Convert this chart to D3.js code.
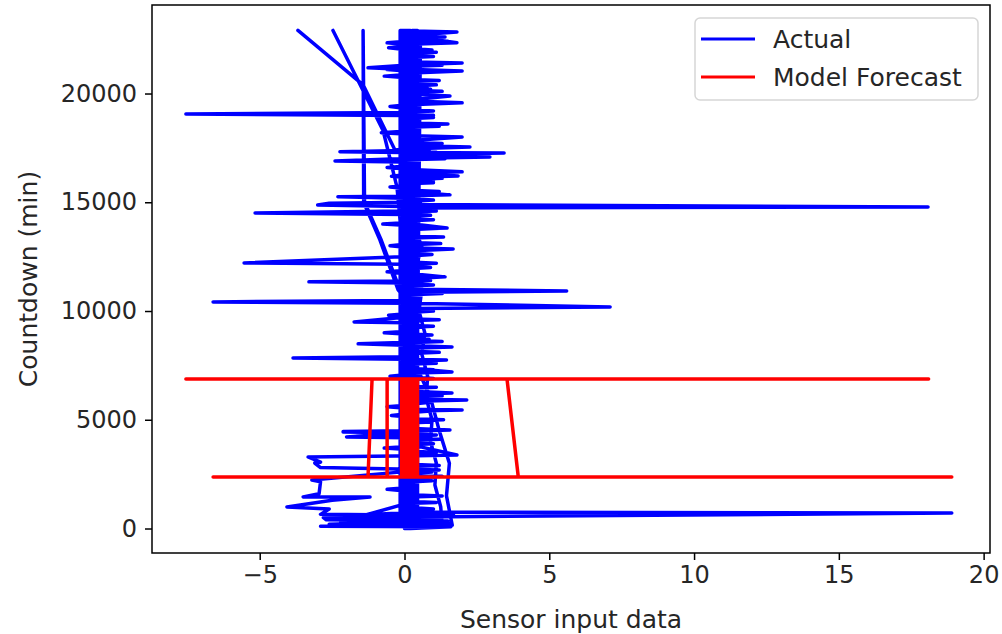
<!DOCTYPE html>
<html>
<head>
<meta charset="utf-8">
<script src="https://cdn.jsdelivr.net/npm/d3@7"></script>
<style>
  body { margin: 0; background: #fff; }
  text { font-family: "DejaVu Sans", sans-serif; fill: #262626; }
</style>
</head>
<body>
<div class="render"></div>
<script>
var xTicks = [-5, 0, 5, 10, 15, 20];
var yTicks = [0, 5000, 10000, 15000, 20000];
var seriesNames = ["Actual", "Model Forecast"];
var seriesColors = ["#0000ff", "#ff0000"];

// [sensor value, countdown], in plotting order
var actual = [
  [-3.68,22900],[-1.43,20400],[-0.33,17400],
  [0.05,17450],[2.26,17540],[0.4,17600],[-0.1,17800],[1.99,18000],[0.3,18060],[0.45,18400],[-0.12,18700],[0.0,18990],[-7.55,19060],[-0.05,19130],[0.35,19400],[0.2,19700],[1.57,19890],[0.5,19950],[-0.1,20200],[0.3,20600],[0.45,20950],[1.99,21040],[0.35,21100],[-0.1,21500],[0.2,21900],[0.0,22250],[-0.6,22330],[0.1,22400],[0.5,22700],[1.81,22830],[0.3,22880],[0.0,22900],
  [0.4,22600],[1.81,22330],[0.45,22280],[-0.1,21800],[0.35,21450],[1.99,21400],[0.4,21340],[-1.26,21180],[-0.1,21120],[0.2,20700],[0.78,20300],[0.1,20250],[0.45,19650],[1.99,19570],[0.4,19500],[-0.1,19000],[0.3,18500],[0.0,17900],[0.4,17450],[0.0,17380],[-2.23,17320],[-0.05,17290],[3.44,17270],[0.4,17200],[2.95,17080],[0.3,17020],[-2.4,16900],[-0.1,16850],[0.4,16500],[1.99,16400],[0.35,16330],[1.85,16210],[0.3,16150],[-0.1,15900],[0.2,15500],[1.57,15340],[0.3,15300],[-0.05,15280],[-2.3,15250],[0.0,15180],[0.45,14900],[18.08,14785],[0.5,14740],[-0.1,14600],[-5.16,14510],[0.0,14440],[0.3,14000],[1.47,13820],[0.4,13780],[-0.1,13300],[0.4,12900],[1.68,12850],[0.5,12780],[-0.12,12500],[-5.54,12210],[-0.05,12150],[0.35,11700],[1.4,11570],[0.4,11500],[-0.1,11380],[-3.3,11340],[0.0,11290],[0.3,11000],[5.6,10920],[0.45,10860],[-0.05,10480],[-6.61,10420],[0.05,10360],[7.1,10190],[0.4,10120],[-0.1,9700],[-1.74,9500],[0.0,9460],[0.35,9000],[-0.1,8550],[-1.6,8490],[0.0,8430],[0.4,8400],[1.64,8350],[0.45,8300],[-0.1,7900],[-3.85,7840],[0.0,7780],[1.45,7750],[0.4,7700],[-0.1,7400],[1.64,7200],[0.35,7150],[0.0,6700],[0.4,6300],[1.64,6230],[0.45,6180],[-0.1,5950],[2.15,5910],[0.4,5850],[0.0,5500],[1.99,5450],[0.35,5400],[-0.1,5000],[0.3,4600],[1.57,4530],[0.4,4480],[-2.12,4440],[0.0,4400],[-2.0,4210],[0.1,4170],[0.4,3800],[1.81,3380],[0.45,3340],[-3.33,3290],[-2.9,3050],[-3.1,3010],[-2.9,2800],[0.2,2720],[1.2,2690],[0.3,2650],[-3.2,2230],[-2.9,2150],[-2.95,1600],[-3.5,1450],[-1.19,1450],[-2.5,1300],[-4.06,990],[-2.6,900],[-2.9,650],[1.7,600],[0.0,400],[0.0,0],
  [0.2,0],[1.6,80],[-2.9,100],[1.55,250],[-2.6,200],[1.5,350],[-2.7,400],[-2.8,500],[18.9,710],[0.6,760],[-2.4,560],[1.2,450],[-2.2,300],[0.2,1200],[0.45,2000],[0.1,2700],[0.35,3500],[-0.1,4300],[-2.12,4460],[0.0,4500],[0.3,5300],[0.1,6100],[0.45,6900],[-0.05,7600],[0.3,8300],[0.1,9100],[0.45,9900],[-0.22,10970],[-0.85,13270],[-1.41,15000],[-1.43,22900],[-1.38,15000],[-0.8,13250],[-0.15,10950],
  [0.4,11600],[-0.1,12300],[0.5,13000],[0.0,13700],[0.45,14400],[-0.05,14800],[-3.0,14870],[-2.6,14950],[0.2,15000],[0.5,15700],[-0.1,16400],[0.45,17100],[0.0,17800],[0.5,18500],[-0.1,19200],[0.4,19900],[0.0,20600],[0.5,21300],[-0.1,22000],[0.4,22700],[0.2,22900],
  [-0.15,22900],[-0.15,22150],[-0.55,22100],[-0.15,22050],[-0.15,20850],[-0.7,20800],[-0.15,20750],[-0.15,19450],[-0.5,19400],[-0.15,19350],[-0.15,18250],[-0.8,18200],[-0.15,18150],[-0.15,16650],[-0.6,16600],[-0.15,16550],[-0.15,15750],[-0.5,15700],[-0.15,15650],[-0.15,14050],[-0.75,14000],[-0.15,13950],[-0.15,13050],[-0.5,13000],[-0.15,12950],[-0.15,11850],[-0.6,11800],[-0.15,11750],[-0.15,9850],[-0.55,9800],[-0.15,9750],[-0.15,9050],[-0.7,9000],[-0.15,8950],[-0.15,7050],[-0.5,7000],[-0.15,6950],[-0.15,5650],[-0.6,5600],[-0.15,5550],[-0.15,3750],[-0.7,3700],[-0.15,3650],[-0.15,1850],[-0.6,1800],[-0.15,1750],[-0.15,300],
  [0.05,300],[0.05,1150],[1.1,1200],[0.05,1250],[0.05,2350],[1.3,2400],[0.05,2450],[0.05,4050],[1.2,4100],[0.05,4150],[0.05,4850],[0.95,4900],[0.05,4950],[0.05,6050],[1.3,6100],[0.05,6150],[0.05,7550],[1.1,7600],[0.05,7650],[0.05,8850],[0.95,8900],[0.05,8950],[0.05,9550],[1.2,9600],[0.05,9650],[0.05,11150],[1.0,11200],[0.05,11250],[0.05,12550],[0.9,12600],[0.05,12650],[0.05,13350],[1.35,13400],[0.05,13450],[0.05,14550],[1.1,14600],[0.05,14650],[0.05,15850],[1.0,15900],[0.05,15950],[0.05,16950],[1.4,17000],[0.05,17050],[0.05,18450],[1.2,18500],[0.05,18550],[0.05,20050],[1.3,20100],[0.05,20150],[0.05,21650],[1.0,21700],[0.05,21750],[0.05,22350],[1.5,22400],[0.05,22450],[0.05,22900],
  [0.2,22900],[0.2,22650],[1.4,22600],[0.2,22550],[0.2,21950],[1.1,21900],[0.2,21850],[0.2,20650],[1.2,20600],[0.2,20550],[0.2,19250],[1.0,19200],[0.2,19150],[0.2,18650],[1.5,18600],[0.2,18550],[0.2,17750],[1.3,17700],[0.2,17650],[0.2,16350],[1.1,16300],[0.2,16250],[0.2,15550],[1.2,15500],[0.2,15450],[0.2,14250],[1.0,14200],[0.2,14150],[0.2,13150],[1.25,13100],[0.2,13050],[0.2,12250],[1.1,12200],[0.2,12150],[0.2,10850],[1.3,10800],[0.2,10750],[0.2,9350],[1.0,9300],[0.2,9250],[0.2,8150],[1.2,8100],[0.2,8050],[0.2,6550],[1.1,6500],[0.2,6450],[0.2,5050],[1.35,5000],[0.2,4950],[0.2,3950],[1.0,3900],[0.2,3850],[0.2,2950],[1.2,2900],[0.2,2850],[0.2,1550],[1.3,1500],[0.2,1450],[0.2,300],
  [0.32,300],[0.32,850],[1.0,900],[0.32,950],[0.32,2150],[0.95,2200],[0.32,2250],[0.32,3450],[1.1,3500],[0.32,3550],[0.32,5350],[0.9,5400],[0.32,5450],[0.32,6850],[1.0,6900],[0.32,6950],[0.32,8550],[1.3,8600],[0.32,8650],[0.32,9950],[1.0,10000],[0.32,10050],[0.32,11950],[0.9,12000],[0.32,12050],[0.32,13750],[1.2,13800],[0.32,13850],[0.32,15050],[1.0,15100],[0.32,15150],[0.32,16050],[1.3,16100],[0.32,16150],[0.32,17250],[1.1,17300],[0.32,17350],[0.32,18850],[1.0,18900],[0.32,18950],[0.32,20350],[1.1,20400],[0.32,20450],[0.32,21250],[1.3,21300],[0.32,21350],[0.32,22900],
  [0.45,22900],[0.45,22050],[0.95,22000],[0.45,21950],[0.45,20250],[0.9,20200],[0.45,20150],[0.45,19050],[1.0,19000],[0.45,18950],[0.45,17450],[0.85,17400],[0.45,17350],[0.45,16050],[1.0,16000],[0.45,15950],[0.45,14450],[0.9,14400],[0.45,14350],[0.45,12650],[0.95,12600],[0.45,12550],[0.45,11450],[0.9,11400],[0.45,11350],[0.45,10050],[1.0,10000],[0.45,9950],[0.45,8750],[0.85,8700],[0.45,8650],[0.45,7350],[1.0,7300],[0.45,7250],[0.45,5850],[0.9,5800],[0.45,5750],[0.45,4350],[1.1,4300],[0.45,4250],[0.45,2650],[0.95,2600],[0.45,2550],[0.45,300],
  [-0.05,300],[-0.05,5150],[-0.45,5200],[-0.05,5250],[-0.05,10350],[-0.5,10400],[-0.05,10450],[-0.05,16150],[-0.45,16200],[-0.05,16250],[-0.05,21050],[-0.6,21100],[-0.05,21150],[-0.05,22900],
  [0.12,22900],[0.12,300],[0.26,300],[0.26,22900],[0.39,22900],[0.39,300],
  [0.55,22500],[0.1,21700],[0.55,20900],[0.15,20000],[0.5,19000],[0.1,18000],[0.55,17000],[0.2,16000],[0.55,15000],[0.25,14000],[0.6,13000],[0.4,12000],[0.6,11000],[0.5,10000],[0.7,9000],[0.6,8000],[0.8,7000],[0.75,6000],[0.95,5000],[0.9,4000],[1.1,3000],[1.05,2000],[1.25,1000],[1.3,200],
  [0.5,100],[1.65,150],[1.45,1500],[1.55,3000],[1.2,4500],[0.9,6000],[0.4,7500],[0.15,9000],[0.3,10500],[0.0,12000],[-0.26,15700],[-0.74,18300],[-2.47,22900]
];

var forecast = [
  [0.1,6875],[-7.55,6875],[18.1,6875],[3.54,6875],[3.93,2370],[18.9,2370],[-6.61,2370],[-1.26,2370],[-1.12,6875],[-0.6,6875],
  [-0.6,2370],[-0.1,2370],[-0.1,6875],[0.0,6875],[0.0,2370],[0.1,2370],[0.1,6875],[0.2,6875],[0.2,2370],[0.3,2370],
  [0.3,6875],[0.4,6875],[0.4,2370],[7.03,2370],[0.45,2370],[0.45,6875]
];

var width = 1002, height = 634;
var margin = { top: 5, right: 12, bottom: 81, left: 152 };

var x = d3.scaleLinear().domain([-8.72, 20.22]).range([margin.left, width - margin.right]);
var y = d3.scaleLinear().domain([-1126, 24070]).range([height - margin.bottom, margin.top]);

var svg = d3.select(".render").append("svg")
  .attr("width", width)
  .attr("height", height);

svg.append("clipPath").attr("id", "plot-clip")
  .append("rect")
  .attr("x", margin.left).attr("y", margin.top)
  .attr("width", width - margin.left - margin.right)
  .attr("height", height - margin.top - margin.bottom);

var line = d3.line()
  .x(function(d) { return x(d[0]); })
  .y(function(d) { return y(d[1]); });

var plot = svg.append("g").attr("clip-path", "url(#plot-clip)");

[actual, forecast].forEach(function(series, i) {
  plot.append("path")
    .datum(series)
    .attr("d", line)
    .attr("fill", "none")
    .attr("stroke", seriesColors[i])
    .attr("stroke-width", 3.5)
    .attr("stroke-linejoin", "round")
    .attr("stroke-linecap", "round");
});

// axes
var xAxis = svg.append("g")
  .attr("transform", "translate(0," + (height - margin.bottom) + ")")
  .call(d3.axisBottom(x).tickValues(xTicks).tickSize(7).tickPadding(6)
    .tickFormat(function(d) { return d < 0 ? "\u2212" + Math.abs(d) : d; }));

var yAxis = svg.append("g")
  .attr("transform", "translate(" + margin.left + ",0)")
  .call(d3.axisLeft(y).tickValues(yTicks).tickSize(7).tickPadding(8)
    .tickFormat(function(d) { return d; }));

[xAxis, yAxis].forEach(function(ax) {
  ax.select(".domain").remove();
  ax.selectAll(".tick line").attr("stroke", "#000").attr("stroke-width", 1.5);
  ax.selectAll(".tick text").attr("font-size", 24).attr("fill", "#262626")
    .attr("font-family", "DejaVu Sans");
});

svg.append("rect")
  .attr("x", margin.left).attr("y", margin.top)
  .attr("width", width - margin.left - margin.right)
  .attr("height", height - margin.top - margin.bottom)
  .attr("fill", "none")
  .attr("stroke", "#000")
  .attr("stroke-width", 1.5);

svg.append("text")
  .attr("x", (margin.left + width - margin.right) / 2)
  .attr("y", 628)
  .attr("text-anchor", "middle")
  .attr("font-size", 25)
  .text("Sensor input data");

svg.append("text")
  .attr("transform", "translate(37," + ((margin.top + height - margin.bottom) / 2) + ") rotate(-90)")
  .attr("text-anchor", "middle")
  .attr("font-size", 25)
  .text("Countdown (min)");

// legend
var legend = svg.append("g").attr("transform", "translate(695,18)");
legend.append("rect")
  .attr("width", 283).attr("height", 82)
  .attr("rx", 5)
  .attr("fill", "#fff").attr("fill-opacity", 0.8)
  .attr("stroke", "#d6d6d6").attr("stroke-width", 1.5);

var item = legend.selectAll("g.item")
  .data(seriesNames)
  .enter().append("g")
  .attr("class", "item")
  .attr("transform", function(d, i) { return "translate(0," + (21 + i * 38) + ")"; });

item.append("line")
  .attr("x1", 6).attr("x2", 60)
  .attr("stroke", function(d, i) { return seriesColors[i]; })
  .attr("stroke-width", 3);

item.append("text")
  .attr("x", 78).attr("y", 9)
  .attr("font-size", 25)
  .text(function(d) { return d; });
</script>
</body>
</html>
